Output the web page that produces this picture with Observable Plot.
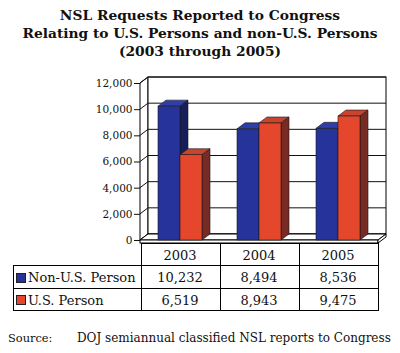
<!DOCTYPE html>
<html>
<head>
<meta charset="utf-8">
<script src="https://cdn.jsdelivr.net/npm/d3@7"></script>
<script src="https://cdn.jsdelivr.net/npm/@observablehq/plot@0.6"></script>
<style>
  html, body { margin: 0; padding: 0; background: #fff; }
  #page { position: relative; width: 400px; height: 353px; overflow: hidden; font-family: "DejaVu Serif", serif; color: #111; }
  #title { position: absolute; top: 6px; left: 0; width: 400px; text-align: center; font-weight: bold; font-size: 13.8px; line-height: 18px; }
  #chart { position: absolute; top: 68px; left: 0; }
  .ln { position: absolute; background: #000; }
  .cell { position: absolute; display: flex; align-items: center; justify-content: center; font-size: 13px; white-space: nowrap; }
  .lab { justify-content: flex-start; }
  .sw { display: inline-block; width: 8px; height: 8px; border: 1px solid #222; margin-right: 2px; }
  #source { position: absolute; top: 331px; left: 0; font-size: 12px; white-space: nowrap; }
</style>
</head>
<body>
<div id="page">
  <div id="title">NSL Requests Reported to Congress<br>Relating to U.S. Persons and non-U.S. Persons<br>(2003 through 2005)</div>
  <div id="chart"></div>
  <div id="table"></div>
  <div id="source"><span style="position:absolute;left:8px;font-size:11.4px;">Source:</span><span style="position:absolute;left:77px;">DOJ semiannual classified NSL reports to Congress</span></div>
</div>
<script>
// ---- data ----
const years = ["2003", "2004", "2005"];
const nonUS = [10232, 8494, 8536];
const usPerson = [6519, 8943, 9475];
const seriesNames = ["Non-U.S. Person", "U.S. Person"];
const yTicks = [0, 2000, 4000, 6000, 8000, 10000, 12000];
const yMax = 12000;

// ---- style ----
const colors = {
  front: ["#25339a", "#e5472d"],
  top:   ["#2f3eaa", "#c8442e"],
  side:  ["#161f5c", "#782a24"]
};
const D = 8, E = 6; // depth offsets (px)

const rows = [];
years.forEach((yr, i) => {
  rows.push({year: yr, series: seriesNames[0], value: nonUS[i]});
  rows.push({year: yr, series: seriesNames[1], value: usPerson[i]});
});

function pts(a) { return a.map(p => p.join(",")).join(" "); }

function chart3d(index, scales, values, dims) {
  const {x, y} = scales;
  const g = d3.create("svg:g");
  const left = dims.marginLeft, right = dims.width - dims.marginRight;
  const y0 = y(0), yT = y(yMax);
  // left side wall
  g.append("polygon").attr("points", pts([[left, yT], [left + D, yT - E], [left + D, y0 - E], [left, y0]]))
    .attr("fill", "#fff").attr("stroke", "#000").attr("stroke-width", 1);
  // back wall
  g.append("rect").attr("x", left + D).attr("y", yT - E).attr("width", right - left).attr("height", y0 - yT)
    .attr("fill", "#fff").attr("stroke", "#000").attr("stroke-width", 1);
  // gridlines
  for (const v of yTicks) {
    const yy = y(v);
    g.append("polyline").attr("points", pts([[left, yy], [left + D, yy - E], [right + D, yy - E]]))
      .attr("fill", "none").attr("stroke", "#111").attr("stroke-width", 1);
  }
  // floor
  g.append("polygon").attr("points", pts([[left, y0], [right, y0], [right + D, y0 - E], [left + D, y0 - E]]))
    .attr("fill", "#fff").attr("stroke", "#000").attr("stroke-width", 1);
  g.append("rect").attr("x", left).attr("y", y0).attr("width", right - left).attr("height", 3)
    .attr("fill", "#fff").attr("stroke", "#000").attr("stroke-width", 1);
  g.append("polygon").attr("points", pts([[right, y0], [right + D, y0 - E], [right + D, y0 - E + 3], [right, y0 + 3]]))
    .attr("fill", "#fff").attr("stroke", "#000").attr("stroke-width", 1);
  // bars
  const w = x.bandwidth() / 2;
  years.forEach((yr, i) => {
    [nonUS[i], usPerson[i]].forEach((v, k) => {
      const x0 = x(yr) + k * w, x1 = x0 + w, yv = y(v);
      g.append("polygon").attr("points", pts([[x0, yv], [x0 + D, yv - E], [x1 + D, yv - E], [x1, yv]]))
        .attr("fill", colors.top[k]).attr("stroke", "#1a1a1a").attr("stroke-width", 0.6);
      g.append("polygon").attr("points", pts([[x1, yv], [x1 + D, yv - E], [x1 + D, y0 - E], [x1, y0]]))
        .attr("fill", colors.side[k]).attr("stroke", "#1a1a1a").attr("stroke-width", 0.6);
      g.append("rect").attr("x", x0).attr("y", yv).attr("width", w).attr("height", y0 - yv)
        .attr("fill", colors.front[k]).attr("stroke", "#1a1a1a").attr("stroke-width", 0.6);
    });
  });
  return g.node();
}

const plot = Plot.plot({
  width: 400,
  height: 180,
  marginTop: 15,
  marginBottom: 8,
  marginLeft: 140,
  marginRight: 22,
  x: {domain: years, paddingInner: 0.445, paddingOuter: 0.2225, axis: null},
  y: {domain: [0, yMax], ticks: yTicks, tickFormat: d3.format(","), tickSize: 6, tickPadding: 2, label: null},
  style: {fontFamily: "DejaVu Serif", fontSize: "10.5px", background: "transparent", color: "#111"},
  marks: [
    Plot.tickY(rows, {x: "year", y: "value", strokeOpacity: 0}),
    chart3d
  ]
});
document.getElementById("chart").appendChild(plot);

// ---- data table (aligned to the x band scale) ----
const xs = plot.scale("x");
const step = xs.step, bw = xs.bandwidth;
const bounds = years.map(yr => xs.apply(yr) + bw / 2 - step / 2);
bounds.push(bounds[bounds.length - 1] + step);
const tLeft = 13;
const rowY = [243, 265, 288, 310];
const tb = d3.select("#table");
function line(x, y, w, h) { tb.append("div").attr("class", "ln").style("left", x + "px").style("top", y + "px").style("width", w + "px").style("height", h + "px"); }
// horizontal lines
line(bounds[0], rowY[0], bounds[3] - bounds[0] + 1, 1);
for (let r = 1; r < 4; r++) line(tLeft, rowY[r], bounds[3] - tLeft + 1, 1);
// vertical lines
line(tLeft, rowY[1], 1, rowY[3] - rowY[1] + 1);
bounds.forEach(b => line(b, rowY[0], 1, rowY[3] - rowY[0] + 1));
function cell(x, y, w, h, html, cls) {
  tb.append("div").attr("class", "cell" + (cls ? " " + cls : ""))
    .style("left", x + "px").style("top", y + "px").style("width", w + "px").style("height", h + "px").html(html);
}
years.forEach((yr, i) => cell(bounds[i], rowY[0] + 1, step, rowY[1] - rowY[0], yr));
const fmt = d3.format(",");
[nonUS, usPerson].forEach((vals, k) => {
  cell(tLeft + 3, rowY[k + 1] + 1, bounds[0] - tLeft - 3, rowY[k + 2] - rowY[k + 1],
    `<span class="sw" style="background:${colors.front[k]}"></span>${seriesNames[k]}`, "lab");
  vals.forEach((v, i) => cell(bounds[i], rowY[k + 1] + 1, step, rowY[k + 2] - rowY[k + 1], fmt(v)));
});
</script>
</body>
</html>
